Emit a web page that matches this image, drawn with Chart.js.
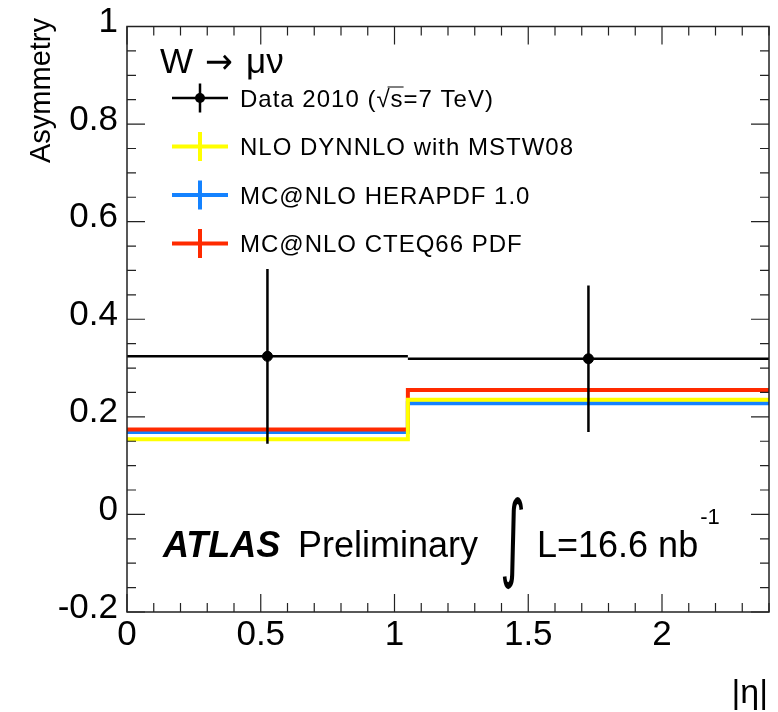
<!DOCTYPE html>
<html>
<head>
<meta charset="utf-8">
<script src="https://cdn.jsdelivr.net/npm/chart.js@4"></script>
<style>
  body { margin: 0; background: #fff; }
  #wrap { width: 778px; height: 712px; }
</style>
</head>
<body>
<div id="wrap"><canvas id="asymChart" width="778" height="712"></canvas></div>
<script>
// Bin edges in |eta| and the measured / predicted asymmetry per bin
const binEdges = [0, 1.05, 2.4];
const dataX = [0.525, 1.725];
const dataY = [0.324, 0.319];
const dataErr = [0.179, 0.15];
const dynnloMstw = [0.154, 0.235];
const mcnloHera = [0.169, 0.228];
const mcnloCteq = [0.174, 0.255];

const legendLabels = [
  "Data 2010 (\u221As=7 TeV)",
  "NLO DYNNLO with MSTW08",
  "MC@NLO HERAPDF 1.0",
  "MC@NLO CTEQ66 PDF",
];
const legendColors = ["#000000", "#ffff00", "#1482ff", "#ff2a00"];

const FONT = "'Liberation Sans', Arial, Helvetica, sans-serif";

// Turn per-bin values into points for a stepped line
const stepPoints = (vals) =>
  binEdges.map((x, i) => ({ x: x, y: vals[Math.min(i, vals.length - 1)] }));

const stepDataset = (label, vals, color, order) => ({
  label: label,
  data: stepPoints(vals),
  borderColor: color,
  borderWidth: 4,
  pointRadius: 0,
  stepped: "before",
  fill: false,
  order: order,
});

// Error bars for the data points (drawn just before the data markers)
const errorBarPlugin = {
  id: "errorBars",
  beforeDatasetDraw: (chart, args) => {
    if (args.index !== 0) return;
    const { ctx, scales } = chart;
    const xs = scales.x;
    const ys = scales.y;
    ctx.save();
    ctx.strokeStyle = "#000";
    ctx.lineWidth = 2.5;
    dataX.forEach((x, i) => {
      const px = xs.getPixelForValue(x);
      const py = ys.getPixelForValue(dataY[i]);
      ctx.beginPath();
      ctx.moveTo(xs.getPixelForValue(binEdges[i]), py);
      ctx.lineTo(xs.getPixelForValue(binEdges[i + 1]), py);
      ctx.moveTo(px, ys.getPixelForValue(dataY[i] + dataErr[i]));
      ctx.lineTo(px, ys.getPixelForValue(dataY[i] - dataErr[i]));
      ctx.stroke();
    });
    ctx.restore();
  },
};

// ROOT-like frame with inward ticks on all four sides, plus legend and labels
const framePlugin = {
  id: "rootFrame",
  afterDraw: (chart) => {
    const { ctx, chartArea: a, scales } = chart;
    const xs = scales.x;
    const ys = scales.y;
    ctx.save();
    ctx.strokeStyle = "#222";
    ctx.lineWidth = 1.5;
    ctx.strokeRect(a.left, a.top, a.right - a.left, a.bottom - a.top);

    ctx.lineWidth = 1.2;
    ctx.beginPath();
    for (let k = 0; k <= 24; k++) {
      const v = k / 10;
      const len = k % 5 === 0 ? 18 : 9;
      const px = xs.getPixelForValue(v);
      ctx.moveTo(px, a.bottom);
      ctx.lineTo(px, a.bottom - len);
      ctx.moveTo(px, a.top);
      ctx.lineTo(px, a.top + len);
    }
    for (let k = -4; k <= 20; k++) {
      const v = k / 20;
      const len = k % 4 === 0 ? 18 : 9;
      const py = ys.getPixelForValue(v);
      ctx.moveTo(a.left, py);
      ctx.lineTo(a.left + len, py);
      ctx.moveTo(a.right, py);
      ctx.lineTo(a.right - len, py);
    }
    ctx.stroke();

    // axis titles
    ctx.fillStyle = "#000";
    ctx.textBaseline = "alphabetic";
    ctx.font = `29px ${FONT}`;
    ctx.save();
    ctx.translate(50, 18);
    ctx.rotate(-Math.PI / 2);
    ctx.textAlign = "right";
    ctx.fillText("Asymmetry", 0, 0);
    ctx.restore();

    ctx.textAlign = "right";
    ctx.font = `34px ${FONT}`;
    ctx.fillText("|\u03B7|", 768, 703);

    // legend header: W -> mu nu
    ctx.textAlign = "left";
    ctx.font = `35px ${FONT}`;
    ctx.fillText("W", 160, 73);
    ctx.font = `35px 'DejaVu Sans', ${FONT}`;
    ctx.save();
    ctx.translate(205, 73);
    ctx.scale(0.95, 1);
    ctx.fillText("\u2192", 0, 0);
    ctx.restore();
    ctx.font = `35px ${FONT}`;
    ctx.fillText("\u03BC\u03BD", 246, 73);

    const rowY = [98, 146.5, 195, 243.5];
    legendLabels.forEach((label, i) => {
      const cy = rowY[i];
      ctx.strokeStyle = legendColors[i];
      ctx.lineWidth = i === 0 ? 2.5 : 4;
      ctx.beginPath();
      ctx.moveTo(172, cy);
      ctx.lineTo(228, cy);
      ctx.moveTo(200, cy - 14.5);
      ctx.lineTo(200, cy + 14.5);
      ctx.stroke();
      if (i === 0) {
        ctx.fillStyle = "#000";
        ctx.beginPath();
        ctx.arc(200, cy, 5, 0, Math.PI * 2);
        ctx.fill();
      }
      ctx.fillStyle = "#000";
      ctx.font = `24px ${FONT}`;
      ctx.letterSpacing = "1px";
      ctx.fillText(label, 240, cy + 8.5);
      if (i === 0) {
        // overline of the square root
        const pre = ctx.measureText("Data 2010 (\u221A").width;
        const sw = ctx.measureText("s").width;
        ctx.strokeStyle = "#000";
        ctx.lineWidth = 1;
        ctx.beginPath();
        ctx.moveTo(240 + pre - 3, cy - 11);
        ctx.lineTo(240 + pre + sw, cy - 11);
        ctx.stroke();
      }
      ctx.letterSpacing = "0px";
    });

    // ATLAS label
    ctx.font = `italic bold 36px ${FONT}`;
    ctx.fillText("ATLAS", 163, 557);
    ctx.font = `36px ${FONT}`;
    ctx.fillText("Preliminary", 298, 557);
    ctx.save();
    ctx.translate(500, 569);
    ctx.scale(1.13, 2.16);
    ctx.font = `44px 'DejaVu Sans', ${FONT}`;
    ctx.fillText("\u222B", 0, 0);
    ctx.restore();
    ctx.font = `36px ${FONT}`;
    const lumi = "L=16.6 nb";
    ctx.fillText(lumi, 537, 557);
    const lw = ctx.measureText(lumi).width;
    ctx.font = `22px ${FONT}`;
    ctx.fillText("-1", 537 + lw + 2, 524);
    ctx.restore();
  },
};

const ctx = document.getElementById("asymChart").getContext("2d");
new Chart(ctx, {
  type: "line",
  data: {
    datasets: [
      {
        label: "Data 2010",
        data: dataX.map((x, i) => ({ x: x, y: dataY[i] })),
        showLine: false,
        pointRadius: 5,
        pointBackgroundColor: "#000",
        pointBorderColor: "#000",
        borderColor: "#000",
        order: 0,
      },
      stepDataset("NLO DYNNLO with MSTW08", dynnloMstw, legendColors[1], 1),
      stepDataset("MC@NLO CTEQ66 PDF", mcnloCteq, legendColors[3], 2),
      stepDataset("MC@NLO HERAPDF 1.0", mcnloHera, legendColors[2], 3),
    ],
  },
  options: {
    responsive: false,
    animation: false,
    layout: { padding: { top: 19, right: 9, left: 0, bottom: 0 } },
    plugins: {
      legend: { display: false },
      tooltip: { enabled: false },
    },
    scales: {
      x: {
        type: "linear",
        min: 0,
        max: 2.4,
        grid: { display: false, drawTicks: false },
        border: { display: false },
        ticks: {
          stepSize: 0.5,
          autoSkip: false,
          maxRotation: 0,
          padding: 6,
          color: "#000",
          font: { family: FONT, size: 35, lineHeight: 1 },
          callback: (v) =>
            Math.abs(v * 2 - Math.round(v * 2)) < 1e-6 ? String(+v.toFixed(1)) : "",
        },
        afterFit: (scale) => {
          scale.height = 100;
        },
      },
      y: {
        min: -0.2,
        max: 1,
        grid: { display: false, drawTicks: false },
        border: { display: false },
        ticks: {
          stepSize: 0.2,
          padding: 9,
          labelOffset: -4,
          color: "#000",
          font: { family: FONT, size: 35, lineHeight: 1 },
          callback: (v) => String(+v.toFixed(1)),
        },
        afterFit: (scale) => {
          scale.width = 127;
        },
      },
    },
  },
  plugins: [errorBarPlugin, framePlugin],
});
</script>
</body>
</html>
